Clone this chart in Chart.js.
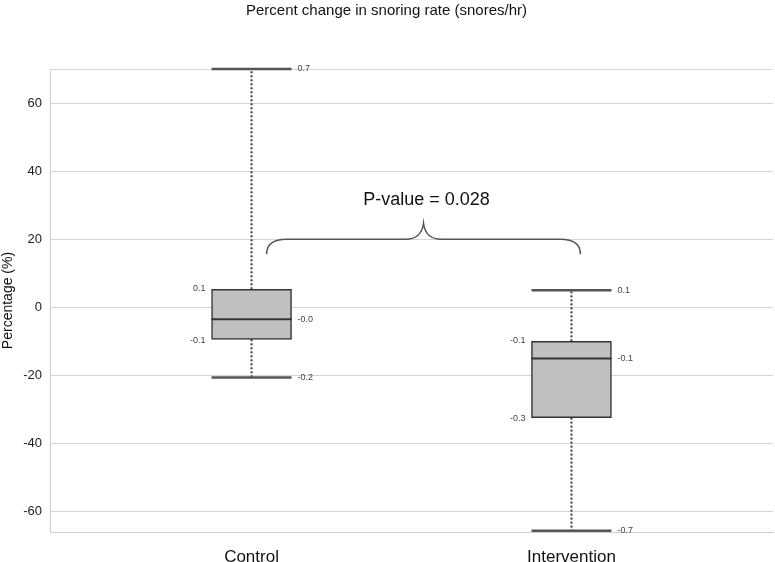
<!DOCTYPE html>
<html>
<head>
<meta charset="utf-8">
<script src="https://cdn.jsdelivr.net/npm/chart.js@4.4.1/dist/chart.umd.min.js"></script>
<style>
  html, body { margin: 0; padding: 0; background: #fff; }
  #wrap { width: 775px; height: 562px; }
</style>
</head>
<body>
<div id="wrap"><canvas id="chart" width="775" height="562"></canvas></div>
<script>
// Box plot data (percent change)
const groups = ["Control", "Intervention"];
const maxVals = [70, 5];
const q3Vals = [5.3, -10];
const medianVals = [-3.5, -15];
const q1Vals = [-9.4, -32.4];
const minVals = [-20.6, -65.6];

// little value labels printed next to the boxes
const maxLabels = ["0.7", "0.1"];
const q3Labels = ["0.1", "-0.1"];
const medianLabels = ["-0.0", "-0.1"];
const q1Labels = ["-0.1", "-0.3"];
const minLabels = ["-0.2", "-0.7"];

const yTicks = [-60, -40, -20, 0, 20, 40, 60];
const pValueText = "P-value = 0.028";

const HALF = 0.125; // half box width in x units
const FONT = "'Liberation Sans', Arial, sans-serif";

const datasets = [];
groups.forEach((g, i) => {
    const x = i + 1;
    // dotted whiskers
    datasets.push({
        type: "line", order: 3, clip: false,
        data: [{ x: x, y: q3Vals[i] }, { x: x, y: maxVals[i] }],
        borderColor: "#3a3a3a", borderWidth: 2, borderDash: [2, 2],
        pointRadius: 0
    });
    datasets.push({
        type: "line", order: 3, clip: false,
        data: [{ x: x, y: q1Vals[i] }, { x: x, y: minVals[i] }],
        borderColor: "#3a3a3a", borderWidth: 2, borderDash: [2, 2],
        pointRadius: 0
    });
    // caps
    [maxVals[i], minVals[i]].forEach(v => {
        datasets.push({
            type: "line", order: 1, clip: false,
            data: [{ x: x - HALF, y: v }, { x: x + HALF, y: v }],
            borderColor: "#555", borderWidth: 2.5, pointRadius: 0
        });
    });
    // median
    datasets.push({
        type: "line", order: 1,
        data: [{ x: x - HALF, y: medianVals[i] }, { x: x + HALF, y: medianVals[i] }],
        borderColor: "#333", borderWidth: 2, pointRadius: 0
    });
});

// the boxes (floating bars)
datasets.push({
    type: "bar", order: 2,
    data: groups.map((g, i) => ({ x: i + 1, y: [q1Vals[i], q3Vals[i]] })),
    backgroundColor: "#c0c0c0",
    borderColor: "#333",
    borderWidth: 1.5,
    borderSkipped: false,
    barThickness: 80
});

const labelPlugin = {
    id: "boxLabels",
    afterDatasetsDraw(chart) {
        const { ctx, scales: { x: xs, y: ys } } = chart;
        ctx.save();
        ctx.font = "9px " + FONT;
        ctx.fillStyle = "#444";
        ctx.textBaseline = "middle";
        groups.forEach((g, i) => {
            const x = i + 1;
            const right = xs.getPixelForValue(x + HALF) + 6;
            const left = xs.getPixelForValue(x - HALF) - 6;
            ctx.textAlign = "left";
            ctx.fillText(maxLabels[i], right, ys.getPixelForValue(maxVals[i]));
            ctx.fillText(medianLabels[i], right, ys.getPixelForValue(medianVals[i]));
            ctx.fillText(minLabels[i], right, ys.getPixelForValue(minVals[i]));
            ctx.textAlign = "right";
            ctx.fillText(q3Labels[i], left, ys.getPixelForValue(q3Vals[i]) - 1);
            ctx.fillText(q1Labels[i], left, ys.getPixelForValue(q1Vals[i]) + 1);
        });

        // brace + p-value
        const x0 = xs.getPixelForValue(1.047);
        const x1 = xs.getPixelForValue(2.028);
        const xm = (x0 + x1) / 2;
        const yb = ys.getPixelForValue(20);
        const yEnd = yb + 15;
        const yTip = yb - 16;
        ctx.strokeStyle = "#555";
        ctx.lineWidth = 1.5;
        ctx.beginPath();
        ctx.moveTo(x0, yEnd);
        ctx.quadraticCurveTo(x0, yb, x0 + 20, yb);
        ctx.lineTo(xm - 18, yb);
        ctx.quadraticCurveTo(xm - 2, yb, xm, yTip);
        ctx.quadraticCurveTo(xm + 2, yb, xm + 18, yb);
        ctx.lineTo(x1 - 20, yb);
        ctx.quadraticCurveTo(x1, yb, x1, yEnd);
        ctx.stroke();

        ctx.font = "18px " + FONT;
        ctx.fillStyle = "#111";
        ctx.textAlign = "center";
        ctx.textBaseline = "middle";
        ctx.fillText(pValueText, xm + 3, ys.getPixelForValue(31.5));
        ctx.restore();
    }
};

new Chart(document.getElementById("chart"), {
    type: "bar",
    data: { datasets: datasets },
    options: {
        responsive: false,
        animation: false,
        layout: { padding: { right: 2, left: 0, bottom: 0 } },
        plugins: {
            legend: { display: false },
            tooltip: { enabled: false },
            title: {
                display: true,
                text: "Percent change in snoring rate (snores/hr)",
                color: "#111",
                font: { family: FONT, size: 15, weight: "normal" },
                padding: { top: 2, bottom: 49 }
            }
        },
        scales: {
            x: {
                type: "linear",
                offset: false,
                min: 0.37,
                max: 2.63,
                afterBuildTicks: axis => { axis.ticks = groups.map((g, i) => ({ value: i + 1 })); },
                afterFit: axis => { axis.height = 30; },
                grid: { display: false },
                border: { display: true, color: "#cfcfcf", width: 1 },
                ticks: {
                    padding: 7,
                    color: "#111",
                    font: { family: FONT, size: 17 },
                    callback: v => groups[v - 1]
                }
            },
            y: {
                min: -66,
                max: 70,
                afterBuildTicks: axis => {
                    axis.ticks = yTicks.concat([70]).map(v => ({ value: v }));
                },
                afterFit: axis => { axis.width = 50; },
                grid: { color: "#d6d6d6", lineWidth: 1, drawTicks: false },
                border: { display: true, color: "#cfcfcf", width: 1 },
                title: {
                    display: true,
                    text: "Percentage (%)",
                    color: "#111",
                    font: { family: FONT, size: 14 },
                    padding: 0
                },
                ticks: {
                    padding: 8,
                    color: "#222",
                    font: { family: FONT, size: 13 },
                    callback: v => (v === 70 ? "" : v)
                }
            }
        }
    },
    plugins: [labelPlugin]
});
</script>
</body>
</html>
